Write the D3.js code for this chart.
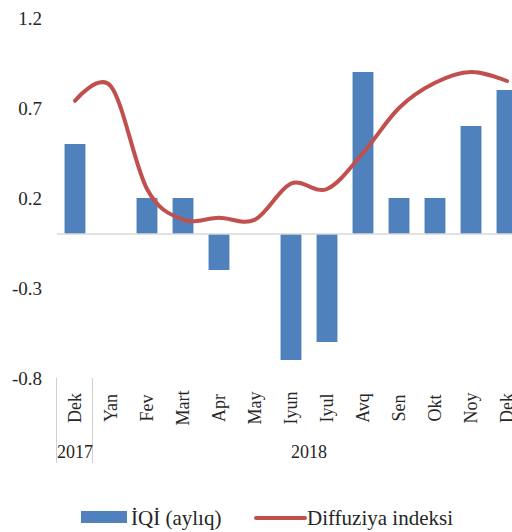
<!DOCTYPE html>
<html>
<head>
<meta charset="utf-8">
<script src="https://cdn.jsdelivr.net/npm/d3@7"></script>
<style>
  body { margin: 0; background: #fff; }
  text { font-family: "Liberation Serif", "Times New Roman", serif; fill: #262626; }
</style>
</head>
<body>
<div id="chart"></div>
<script>
// months, 2017 Dek .. 2018 Dek
let months = ["Dek", "Yan", "Fev", "Mart", "Apr", "May", "Iyun", "Iyul", "Avq", "Sen", "Okt", "Noy", "Dek"];
let iqi = [0.5, 0, 0.2, 0.2, -0.2, 0, -0.7, -0.6, 0.9, 0.2, 0.2, 0.6, 0.8];
let diffuziya = [0.74, 0.82, 0.25, 0.08, 0.09, 0.08, 0.28, 0.25, 0.45, 0.70, 0.84, 0.90, 0.85];
let yTicks = [-0.8, -0.3, 0.2, 0.7, 1.2];
let years = [{label: "2017", from: 0, to: 0}, {label: "2018", from: 1, to: 12}];

var width = 512, height = 532;
var svg = d3.select("#chart").append("svg")
    .attr("width", width)
    .attr("height", height);

var x = d3.scaleBand()
    .domain(d3.range(months.length))
    .range([57, 525])
    .paddingInner(0.42)
    .paddingOuter(0.21);

var y = d3.scaleLinear()
    .domain([-0.8, 1.2])
    .range([378, 18]);

var cx = function(i){ return x(i) + x.bandwidth() / 2; };

// y tick labels (plain hyphen for negatives, like the source)
svg.append("g")
    .selectAll("text")
    .data(yTicks)
    .enter().append("text")
    .attr("x", 42)
    .attr("y", function(d){ return y(d); })
    .attr("dy", "0.35em")
    .attr("text-anchor", "end")
    .style("font-size", "19px")
    .text(function(d){ return d.toFixed(1); });

// bars
svg.append("g")
    .selectAll("rect")
    .data(iqi)
    .enter().append("rect")
    .attr("x", function(d, i){ return x(i); })
    .attr("width", x.bandwidth())
    .attr("y", function(d){ return y(Math.max(0, d)); })
    .attr("height", function(d){ return Math.abs(y(d) - y(0)); })
    .attr("fill", "#4F81BD");

// zero line
svg.append("line")
    .attr("x1", 57).attr("x2", width)
    .attr("y1", y(0)).attr("y2", y(0))
    .attr("stroke", "#d9d9d9")
    .attr("stroke-width", 1.5);

// diffusion line, smoothed like excel
var line = d3.line()
    .x(function(d, i){ return cx(i); })
    .y(function(d){ return y(d); })
    .curve(d3.curveCardinal.tension(0));

svg.append("path")
    .datum(diffuziya)
    .attr("d", line)
    .attr("fill", "none")
    .attr("stroke", "#C0504D")
    .attr("stroke-width", 4)
    .attr("stroke-linecap", "round");

// month labels (rotated)
svg.append("g")
    .selectAll("text")
    .data(months)
    .enter().append("text")
    .attr("transform", function(d, i){ return "translate(" + cx(i) + ",408) rotate(-90)"; })
    .attr("dy", "0.35em")
    .attr("text-anchor", "middle")
    .style("font-size", "18px")
    .text(function(d){ return d; });

// year group separators
svg.append("g")
    .selectAll("line")
    .data([0, 1])
    .enter().append("line")
    .attr("x1", function(d){ return x(d) - x.step() * x.paddingInner() / 2 - 0.5; })
    .attr("x2", function(d){ return x(d) - x.step() * x.paddingInner() / 2 - 0.5; })
    .attr("y1", 378).attr("y2", 463)
    .attr("stroke", "#d0d0d0")
    .attr("stroke-width", 1);

svg.append("g")
    .selectAll("text")
    .data(years)
    .enter().append("text")
    .attr("x", function(d){ return (cx(d.from) + cx(d.to)) / 2; })
    .attr("y", 458)
    .attr("text-anchor", "middle")
    .style("font-size", "18px")
    .text(function(d){ return d.label; });

// legend
var legend = svg.append("g");
legend.append("rect")
    .attr("x", 81).attr("y", 511)
    .attr("width", 46).attr("height", 12)
    .attr("fill", "#4F81BD");
legend.append("text")
    .attr("x", 131).attr("y", 525)
    .style("font-size", "21px")
    .text("İQİ (aylıq)");
legend.append("line")
    .attr("x1", 256).attr("x2", 305)
    .attr("y1", 518).attr("y2", 518)
    .attr("stroke", "#C0504D")
    .attr("stroke-width", 4)
    .attr("stroke-linecap", "round");
legend.append("text")
    .attr("x", 307).attr("y", 525)
    .style("font-size", "21px")
    .text("Diffuziya indeksi");
</script>
</body>
</html>
